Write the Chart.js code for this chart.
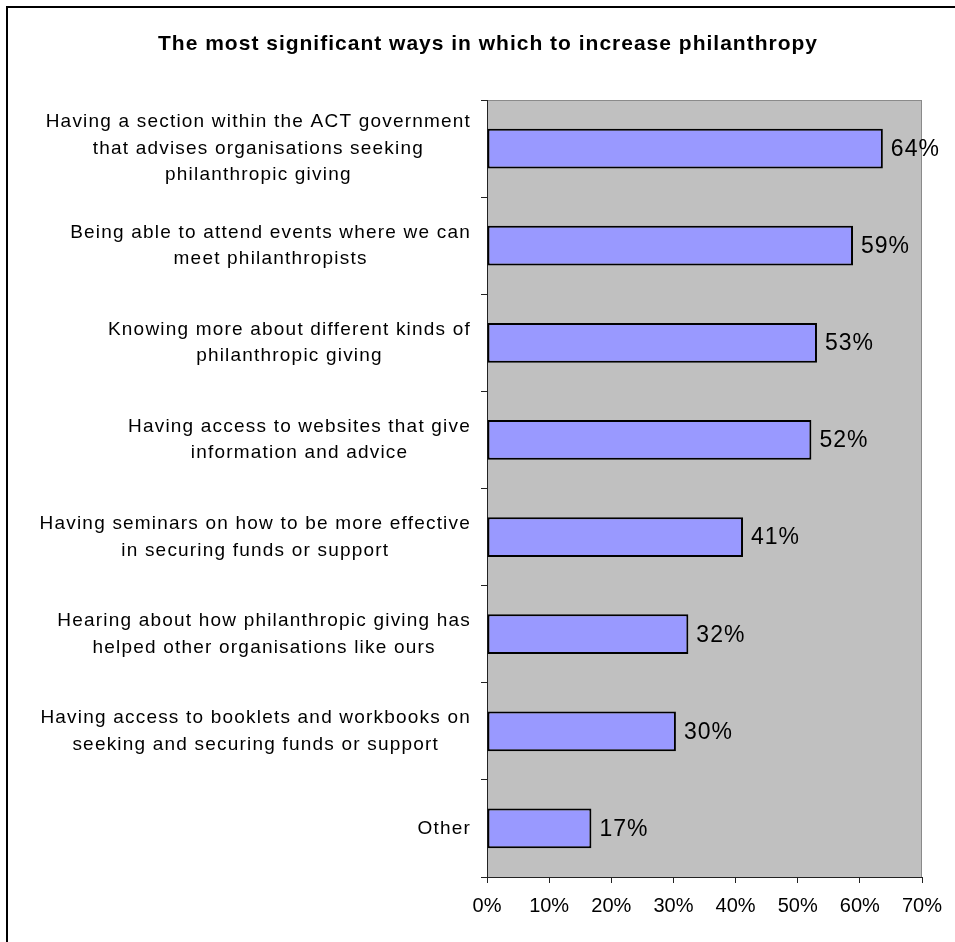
<!DOCTYPE html>
<html>
<head>
<meta charset="utf-8">
<script src="https://cdn.jsdelivr.net/npm/chart.js@4"></script>
<style>
  html, body { margin: 0; padding: 0; background: #fff; }
  #wrap { width: 955px; height: 942px; }
</style>
</head>
<body>
<div id="wrap"><canvas id="c" width="955" height="942"></canvas></div>
<script>
// categories (top to bottom), one array of lines per label
var categories = [
  ['Having a section within the ACT government', 'that advises organisations seeking', 'philanthropic giving'],
  ['Being able to attend events where we can', 'meet philanthropists'],
  ['Knowing more about different kinds of', 'philanthropic giving'],
  ['Having access to websites that give', 'information and advice'],
  ['Having seminars on how to be more effective', 'in securing funds or support'],
  ['Hearing about how philanthropic giving has', 'helped other organisations like ours'],
  ['Having access to booklets and workbooks on', 'seeking and securing funds or support'],
  ['Other']
];
var values = [63.7, 58.9, 53.1, 52.2, 41.2, 32.4, 30.4, 16.8];
var titleText = 'The most significant ways in which to increase philanthropy';
var xMin = 0, xMax = 70, xStep = 10;

var FONT = 'Arial, "Liberation Sans", sans-serif';

// fond blanc, cadre, titre, fond gris de la zone de tracé
var backdrop = {
  id: 'backdrop',
  beforeDraw: function (chart) {
    var ctx = chart.ctx, a = chart.chartArea;
    ctx.save();
    ctx.fillStyle = '#fff';
    ctx.fillRect(0, 0, chart.width, chart.height);
    ctx.strokeStyle = '#000';
    ctx.lineWidth = 2;
    ctx.strokeRect(7, 7, chart.width + 10, chart.height + 10);

    ctx.font = 'bold 21px ' + FONT;
    ctx.letterSpacing = '1px';
    ctx.fillStyle = '#000';
    ctx.textAlign = 'center';
    ctx.textBaseline = 'alphabetic';
    ctx.fillText(titleText, 488, 50);
    ctx.letterSpacing = '0px';

    ctx.fillStyle = '#C0C0C0';
    ctx.fillRect(a.left, a.top, a.right - a.left, a.bottom - a.top);
    ctx.strokeStyle = '#8a8a8a';
    ctx.lineWidth = 1;
    ctx.strokeRect(a.left + 0.5, a.top + 0.5, a.right - a.left - 1, a.bottom - a.top);
    ctx.restore();
  }
};

// étiquettes de catégories : bloc aligné à droite, lignes centrées
var catLabels = {
  id: 'catLabels',
  afterDraw: function (chart) {
    var ctx = chart.ctx, ys = chart.scales.y;
    var right = ys.right - 16, lh = 26.5;
    ctx.save();
    ctx.font = '19px ' + FONT;
    ctx.letterSpacing = '1.2px';
    ctx.fillStyle = '#000';
    ctx.textAlign = 'center';
    ctx.textBaseline = 'middle';
    categories.forEach(function (lines, i) {
      var w = 0;
      lines.forEach(function (l) { w = Math.max(w, ctx.measureText(l).width); });
      var cx = right - w / 2;
      var cy = ys.getPixelForValue(i);
      var y0 = cy - (lines.length - 1) * lh / 2;
      lines.forEach(function (l, k) { ctx.fillText(l, cx, y0 + k * lh); });
    });
    ctx.restore();
  }
};

// valeurs en bout de barre
var valueLabels = {
  id: 'valueLabels',
  afterDatasetsDraw: function (chart) {
    var ctx = chart.ctx;
    var meta = chart.getDatasetMeta(0);
    ctx.save();
    ctx.font = '23px ' + FONT;
    ctx.letterSpacing = '1px';
    ctx.fillStyle = '#000';
    ctx.textAlign = 'left';
    ctx.textBaseline = 'middle';
    meta.data.forEach(function (bar, i) {
      ctx.fillText(Math.round(values[i]) + '%', bar.x + 8, bar.y + 1);
    });
    ctx.restore();
  }
};

new Chart(document.getElementById('c'), {
  type: 'bar',
  data: {
    labels: categories,
    datasets: [{
      data: values,
      backgroundColor: '#9999FF',
      borderColor: '#000',
      borderWidth: 2,
      borderSkipped: false,
      barPercentage: 0.41,
      categoryPercentage: 1
    }]
  },
  options: {
    indexAxis: 'y',
    responsive: false,
    animation: false,
    layout: { padding: { left: 0, right: 33, top: 100, bottom: 0 } },
    plugins: {
      legend: { display: false },
      tooltip: { enabled: false },
      title: { display: false }
    },
    scales: {
      x: {
        min: xMin, max: xMax,
        ticks: {
          stepSize: xStep,
          color: '#000',
          font: { family: FONT, size: 20 },
          padding: 11,
          maxRotation: 0,
          callback: function (v) { return v + '%'; }
        },
        grid: { drawOnChartArea: false, drawTicks: true, tickLength: 6, color: '#222' },
        border: { color: '#222', width: 1 },
        afterFit: function (s) { s.height = 65; }
      },
      y: {
        ticks: { display: false },
        grid: { drawOnChartArea: false, drawTicks: true, tickLength: 6, color: '#222', offset: true },
        border: { color: '#222', width: 1 },
        afterFit: function (s) { s.width = 487; }
      }
    }
  },
  plugins: [backdrop, catLabels, valueLabels]
});
</script>
</body>
</html>
